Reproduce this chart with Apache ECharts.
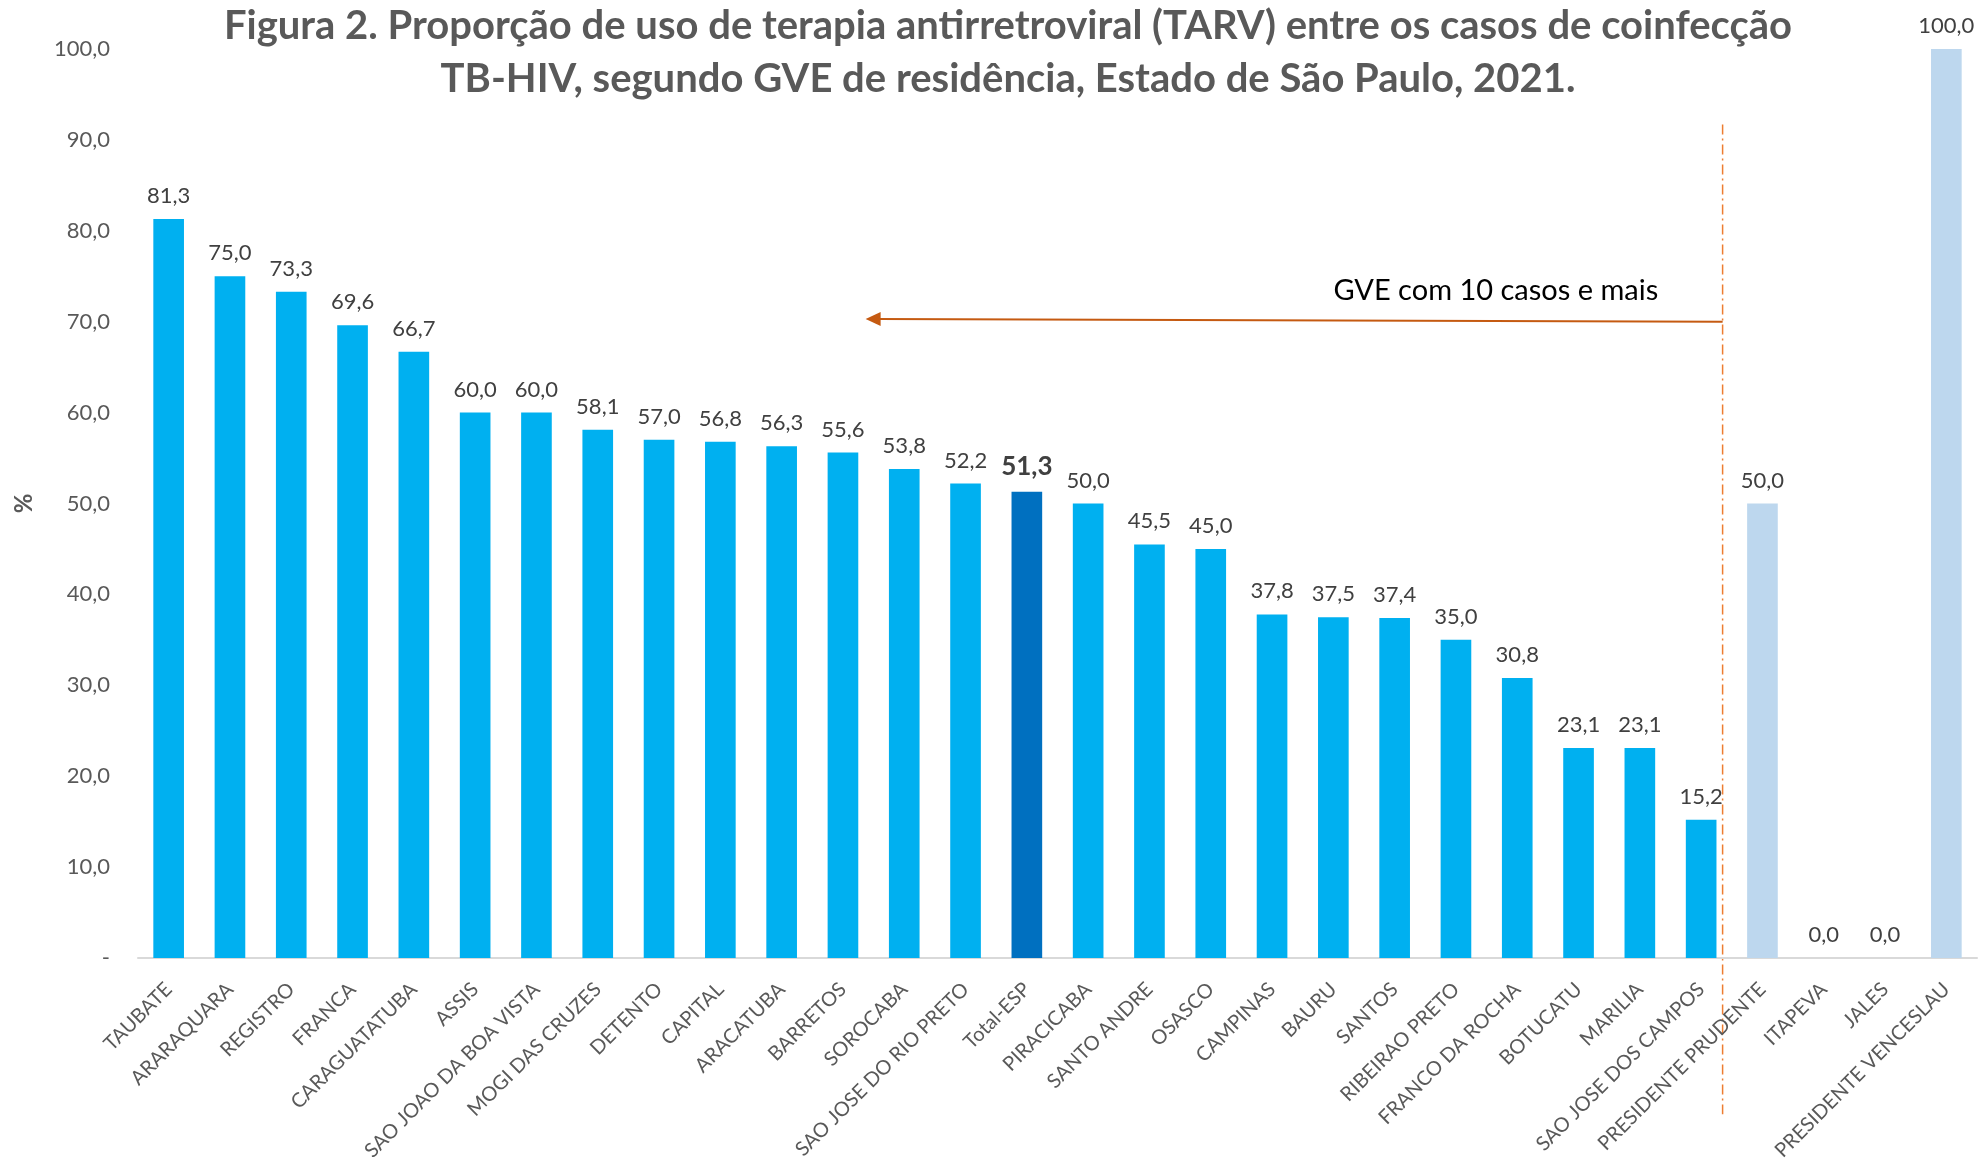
<!DOCTYPE html>
<html>
<head>
<meta charset="utf-8">
<script src="https://cdn.jsdelivr.net/npm/echarts@6/dist/echarts.min.js"></script>
<style>
  html, body { margin: 0; padding: 0; background: #fff; }
  #chart { width: 1980px; height: 1160px; }
</style>
</head>
<body>
<div id="chart"></div>
<script>
// GVE names, in the order of the figure
var categories = [
  'TAUBATE', 'ARARAQUARA', 'REGISTRO', 'FRANCA', 'CARAGUATATUBA', 'ASSIS',
  'SAO JOAO DA BOA VISTA', 'MOGI DAS CRUZES', 'DETENTO', 'CAPITAL', 'ARACATUBA',
  'BARRETOS', 'SOROCABA', 'SAO JOSE DO RIO PRETO', 'Total-ESP', 'PIRACICABA',
  'SANTO ANDRE', 'OSASCO', 'CAMPINAS', 'BAURU', 'SANTOS', 'RIBEIRAO PRETO',
  'FRANCO DA ROCHA', 'BOTUCATU', 'MARILIA', 'SAO JOSE DOS CAMPOS',
  'PRESIDENTE PRUDENTE', 'ITAPEVA', 'JALES', 'PRESIDENTE VENCESLAU'
];
// % de uso de TARV
var values = [
  81.3, 75.0, 73.3, 69.6, 66.7, 60.0,
  60.0, 58.1, 57.0, 56.8, 56.3,
  55.6, 53.8, 52.2, 51.3, 50.0,
  45.5, 45.0, 37.8, 37.5, 37.4, 35.0,
  30.8, 23.1, 23.1, 15.2,
  50.0, 0.0, 0.0, 100.0
];
var totalName = 'Total-ESP';
// GVE with fewer than 10 cases (right of the dashed line)
var fewCases = ['PRESIDENTE PRUDENTE', 'ITAPEVA', 'JALES', 'PRESIDENTE VENCESLAU'];
var noteText = 'GVE com 10 casos e mais';

var FONT = 'Lato';
var fmt = function (v) { return v.toFixed(1).replace('.', ','); };

var myChart = echarts.init(document.getElementById('chart'));

var barData = values.map(function (v, i) {
  var name = categories[i];
  var item = { value: v, itemStyle: { color: '#00B0F0' } };
  if (name === totalName) {
    item.itemStyle.color = '#0070C0';
    item.label = { fontSize: 26, fontWeight: 'bold', color: '#404040' };
  } else if (fewCases.indexOf(name) >= 0) {
    item.itemStyle.color = '#BDD7EE';
  }
  return item;
});

var option = {
  animation: false,
  title: {
    text: 'Figura 2. Proporção de uso de terapia antirretroviral (TARV) entre os casos de coinfecção\nTB-HIV, segundo GVE de residência, Estado de São Paulo, 2021.',
    left: 1003,
    top: -5,
    textAlign: 'center',
    textStyle: {
      fontFamily: FONT,
      fontSize: 40,
      fontWeight: 'bold',
      color: '#595959',
      lineHeight: 53
    }
  },
  grid: { left: 138, right: 3, top: 49, bottom: 202, outerBoundsMode: 'none', containLabel: false },
  xAxis: {
    type: 'category',
    data: categories,
    axisLine: { lineStyle: { color: '#D9D9D9', width: 2 } },
    axisTick: { show: false },
    axisLabel: {
      interval: 0,
      rotate: 45,
      margin: 28,
      fontFamily: FONT,
      fontSize: 20,
      color: '#595959'
    }
  },
  yAxis: {
    type: 'value',
    min: 0,
    max: 100,
    interval: 10,
    name: '%',
    nameLocation: 'middle',
    nameGap: 102,
    nameTextStyle: { fontFamily: FONT, fontSize: 24, fontWeight: 'bold', color: '#595959' },
    splitLine: { show: false },
    axisLine: { show: false },
    axisTick: { show: false },
    axisLabel: {
      margin: 28,
      fontFamily: FONT,
      fontSize: 22,
      color: '#595959',
      formatter: function (v) { return v === 0 ? '-' : fmt(v); }
    }
  },
  series: [{
    type: 'bar',
    data: barData,
    barCategoryGap: '50%',
    label: {
      show: true,
      position: 'top',
      distance: 12,
      fontFamily: FONT,
      fontSize: 22,
      color: '#404040',
      formatter: function (p) { return fmt(p.value); }
    }
  }]
};

myChart.setOption(option);

// annotation positions taken from the axes
function catX(pos) {
  var i = Math.floor(pos);
  var f = pos - i;
  var a = myChart.convertToPixel({ xAxisIndex: 0 }, i);
  var b = myChart.convertToPixel({ xAxisIndex: 0 }, i + 1);
  return a + f * (b - a);
}
function valY(v) {
  return myChart.convertToPixel({ yAxisIndex: 0 }, v);
}

var splitX = catX(25.35);
var arrowLeft = catX(11.37);
var arrowYR = valY(70.0);
var arrowYL = valY(70.3);

myChart.setOption({
  graphic: [
    {
      type: 'line',
      shape: { x1: splitX, y1: valY(91.7), x2: splitX, y2: valY(-17.2) },
      style: { stroke: '#ED7D31', lineWidth: 1.5, lineDash: [10, 4, 2, 4] }
    },
    {
      type: 'line',
      shape: { x1: splitX, y1: arrowYR, x2: arrowLeft + 12, y2: arrowYL },
      style: { stroke: '#C55A11', lineWidth: 2 }
    },
    {
      type: 'polygon',
      shape: { points: [[arrowLeft, arrowYL], [arrowLeft + 15, arrowYL - 7], [arrowLeft + 15, arrowYL + 7]] },
      style: { fill: '#C55A11' }
    },
    {
      type: 'text',
      x: catX(24.3),
      y: valY(73.4),
      style: {
        text: noteText,
        fontFamily: FONT,
        fontSize: 29,
        fill: '#000000',
        align: 'right',
        verticalAlign: 'middle'
      }
    }
  ]
});
</script>
</body>
</html>
